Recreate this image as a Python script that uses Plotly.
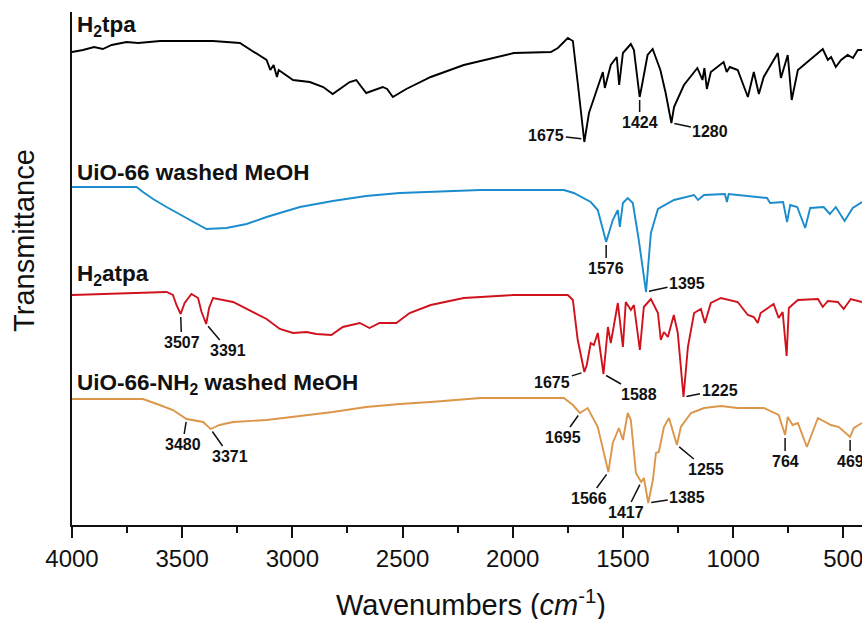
import plotly.graph_objects as go

# ---------------- data (offset transmittance, arbitrary units) ----------------
h2tpa_w = [4000, 3950, 3900, 3860, 3820, 3752, 3700, 3600, 3500, 3360, 3238, 3133, 3117, 3100, 3085, 3070, 3062,
           2997, 2921, 2860, 2817, 2740, 2710, 2665, 2590, 2570, 2544, 2483, 2372, 2222, 1995, 1827, 1795,
           1750, 1727, 1705, 1675, 1654, 1623, 1591, 1582, 1555, 1528, 1517, 1500, 1464, 1450, 1424, 1415,
           1388, 1365, 1330, 1306, 1280, 1268, 1223, 1162, 1139, 1130, 1119, 1101, 1043, 1029, 1015, 979,
           933, 906, 883, 861, 797, 783, 752, 734, 706, 593, 570, 555, 534, 510, 480, 456, 434, 415]
h2tpa_t = [471, 473, 476, 474, 478, 481, 480, 482, 482, 482, 480, 466, 463, 453, 458, 446, 453,
           443, 441, 436, 429, 441, 443, 430, 436, 434, 426, 434, 446, 458, 470, 471, 475,
           485, 482, 440, 381, 410, 430, 451, 435, 458, 466, 438, 470, 479, 473, 426, 436,
           468, 474, 453, 430, 400, 416, 438, 455, 443, 455, 434, 451, 461, 451, 456, 453,
           426, 451, 429, 446, 470, 445, 468, 423, 453, 474, 463, 466, 456, 463, 468, 465, 473, 473]

uio_w = [4000, 3707, 3678, 3632, 3571, 3480, 3390, 3299, 3208, 3117, 2966, 2817, 2665, 2513, 2372, 2146,
         1768, 1723, 1646, 1614, 1576, 1546, 1523, 1514, 1500, 1478, 1455, 1428, 1395, 1373, 1341, 1268,
         1177, 1159, 1132, 1037, 1028, 1020, 846, 832, 773, 755, 741, 709, 673, 650, 589, 561, 534, 494,
         457, 415]
uio_t = [336, 336, 331, 324, 316, 305, 294, 295, 299, 306, 316, 322, 327, 330, 331, 333,
         333, 330, 321, 313, 281, 303, 313, 296, 320, 325, 320, 283, 231, 290, 314, 323,
         328, 323, 328, 329, 321, 329, 325, 320, 321, 301, 318, 316, 295, 315, 316, 309, 316, 302,
         315, 321]

h2atpa_w = [4000, 3571, 3542, 3526, 3507, 3489, 3458, 3428, 3412, 3391, 3378, 3360, 3269, 3194, 3117, 3057,
            2997, 2936, 2891, 2823, 2771, 2694, 2650, 2604, 2528, 2468, 2372, 2222, 1995, 1750, 1727, 1705,
            1675, 1664, 1646, 1632, 1614, 1588, 1568, 1555, 1523, 1500, 1487, 1464, 1450, 1423, 1405, 1373,
            1341, 1328, 1314, 1296, 1269, 1251, 1225, 1205, 1177, 1146, 1128, 1101, 1055, 979, 933, 906,
            888, 875, 816, 793, 775, 757, 747, 706, 615, 593, 570, 525, 498, 466, 415]
h2atpa_t = [228, 231, 228, 218, 209, 220, 229, 225, 211, 199, 215, 225, 221, 213, 204, 194,
            190, 191, 189, 188, 196, 200, 195, 200, 200, 210, 218, 225, 228, 228, 223, 183,
            151, 158, 180, 178, 190, 149, 196, 180, 220, 176, 221, 213, 218, 173, 216, 224,
            210, 183, 191, 186, 208, 190, 126, 176, 210, 214, 200, 220, 225, 221, 208, 206,
            200, 210, 219, 205, 211, 167, 215, 223, 224, 216, 222, 221, 214, 224, 221]

uionh2_w = [4000, 3678, 3602, 3542, 3480, 3450, 3405, 3371, 3330, 3269, 3117, 2966, 2817, 2665, 2513, 2372,
            2146, 1768, 1727, 1695, 1660, 1614, 1591, 1566, 1546, 1518, 1500, 1478, 1464, 1441, 1417, 1405,
            1385, 1364, 1350, 1337, 1314, 1291, 1255, 1237, 1191, 1132, 1055, 979, 861, 793, 764, 752, 730,
            706, 665, 615, 556, 520, 469, 452, 415]
uionh2_t = [124, 124, 118, 113, 104, 103, 101, 94, 98, 101, 103, 107, 111, 116, 119, 121,
            125, 125, 118, 110, 115, 96, 73, 51, 80, 95, 83, 110, 103, 50, 41, 45,
            20, 43, 70, 71, 96, 105, 78, 96, 110, 115, 117, 115, 115, 108, 88, 106, 98,
            100, 76, 105, 98, 96, 86, 95, 100]

series_names = ["H<sub>2</sub>tpa", "UiO-66 washed MeOH", "H<sub>2</sub>atpa", "UiO-66-NH<sub>2</sub> washed MeOH"]
series_colors = ["#000000", "#1b8ccd", "#d0121c", "#dc964a"]
name_levels = [497, 351, 248, 139]

# peak labels: (wavenumber, level, text offset x px, text offset y px, text)
peaks = [
    (1675, 384, -38, -4, "1675"), (1424, 426, 0, 25, "1424"), (1280, 400, 39, 8, "1280"),
    (1576, 281, 0, 26, "1576"), (1395, 231, 41, -9, "1395"),
    (3507, 209, 1, 28, "3507"), (3391, 199, 22, 26, "3391"),
    (1675, 151, -32, 10, "1675"), (1588, 149, 35, 20, "1588"), (1225, 126, 36, -7, "1225"),
    (3480, 104, -4, 25, "3480"), (3371, 94, 19, 27, "3371"),
    (1695, 110, -17, 24, "1695"), (1566, 51, -19, 26, "1566"), (1417, 41, -15, 30, "1417"),
    (1385, 20, 39, -6, "1385"), (1255, 78, 29, 24, "1255"), (764, 88, 0, 26, "764"), (469, 86, 0, 24, "469"),
]

FONT = "Liberation Sans, Arial, sans-serif"

fig = go.Figure()
for w, t, c in [(h2tpa_w, h2tpa_t, series_colors[0]), (uio_w, uio_t, series_colors[1]),
                (h2atpa_w, h2atpa_t, series_colors[2]), (uionh2_w, uionh2_t, series_colors[3])]:
    fig.add_trace(go.Scatter(x=w, y=t, mode="lines", line=dict(color=c, width=1.9), showlegend=False,
                             hoverinfo="skip"))

annotations = []
for name, lvl in zip(series_names, name_levels):
    annotations.append(dict(x=3985, y=lvl, xref="x", yref="y", text="<b>" + name + "</b>", showarrow=False,
                            xanchor="left", yanchor="middle", font=dict(family=FONT, size=22.5, color="#111")))
for w, lvl, ax, ay, txt in peaks:
    annotations.append(dict(x=w, y=lvl, xref="x", yref="y", text="<b>" + txt + "</b>", showarrow=True,
                            arrowhead=0, arrowwidth=1.5, arrowcolor="#111", ax=ax, ay=ay, standoff=3,
                            font=dict(family=FONT, size=16, color="#111")))
annotations.append(dict(x=-0.06, y=0.555, xref="paper", yref="paper", text="Transmittance", textangle=-90,
                        showarrow=False, xanchor="center", yanchor="middle",
                        font=dict(family=FONT, size=29, color="#111")))
annotations.append(dict(x=0.505, y=-0.152, xref="paper", yref="paper",
                        text="Wavenumbers (<i>cm</i><sup>-1</sup>)", showarrow=False,
                        xanchor="center", yanchor="middle", font=dict(family=FONT, size=29, color="#111")))

fig.update_layout(
    width=862, height=619,
    margin=dict(l=72, r=0, t=12, b=94),
    plot_bgcolor="white", paper_bgcolor="white",
    annotations=annotations,
    xaxis=dict(range=[4000, 415], tickmode="linear", tick0=500, dtick=500, ticks="outside", ticklen=11,
               tickwidth=1.5, tickcolor="#111", showline=True, linecolor="#111", linewidth=1.8,
               showgrid=False, zeroline=False, tickfont=dict(family=FONT, size=24, color="#111"),
               ticklabeloverflow="allow",
               minor=dict(dtick=250, tick0=250, ticks="outside", ticklen=6, tickwidth=1.5, tickcolor="#111",
                          showgrid=False)),
    yaxis=dict(range=[-2, 511], showline=True, linecolor="#111", linewidth=1.8, showticklabels=False,
               ticks="", showgrid=False, zeroline=False),
)

fig.write_html("out.html")
